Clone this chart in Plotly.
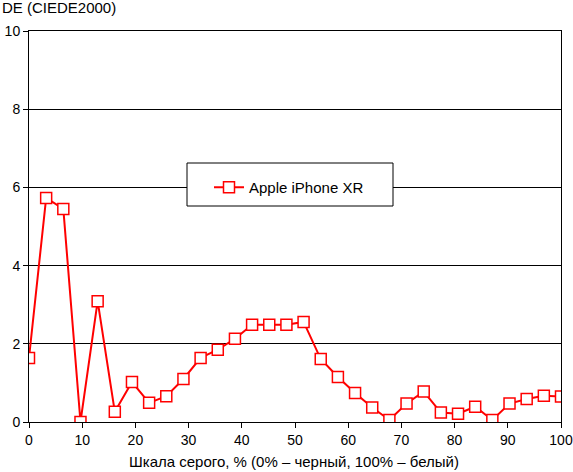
import plotly.graph_objects as go

gray_pct = [k * 100 / 31 for k in range(32)]
de_values = [1.64, 5.73, 5.45, 0.0, 3.09, 0.26, 1.02, 0.49, 0.66, 1.10, 1.64,
             1.85, 2.13, 2.49, 2.49, 2.49, 2.56, 1.61, 1.15, 0.74, 0.37, 0.05,
             0.47, 0.78, 0.24, 0.21, 0.39, 0.05, 0.47, 0.59, 0.67, 0.65]
series_name = "Apple iPhone XR"
x_ticks = [0, 10, 20, 30, 40, 50, 60, 70, 80, 90, 100]
y_ticks = [0, 2, 4, 6, 8, 10]
y_title = "DE (CIEDE2000)"
x_title = "Шкала серого, % (0% – черный, 100% – белый)"

FONT = "Liberation Sans, Arial, sans-serif"

fig = go.Figure()
fig.add_trace(go.Scatter(
    x=gray_pct, y=de_values, name=series_name, mode="lines+markers",
    line=dict(color="#ff0000", width=2),
    marker=dict(symbol="square", size=11, color="white",
                line=dict(color="#ff0000", width=1.5)),
))

fig.update_layout(
    width=573, height=472,
    margin=dict(l=29, r=12, t=31, b=50, autoexpand=False),
    paper_bgcolor="white", plot_bgcolor="white",
    font=dict(family=FONT, size=14, color="black"),
    showlegend=True,
    legend=dict(x=(209 - 29) / 532, y=(422 - 171) / 391, xanchor="left", yanchor="top",
                bgcolor="rgba(0,0,0,0)", borderwidth=0,
                font=dict(family=FONT, size=15, color="black")),
    xaxis=dict(range=[0, 100], tickvals=x_ticks, showgrid=False, zeroline=False,
               showline=True, linecolor="black", linewidth=1, mirror=True,
               ticks="outside", ticklen=5, tickcolor="black", automargin=False,
               tickfont=dict(family=FONT, size=14)),
    yaxis=dict(range=[0, 10], tickvals=y_ticks, showgrid=True, gridcolor="black",
               gridwidth=1, zeroline=False, showline=True, linecolor="black",
               linewidth=1, mirror=True, ticks="outside", ticklen=5, automargin=False,
               tickcolor="black", tickfont=dict(family=FONT, size=14)),
    shapes=[dict(type="rect", xref="paper", yref="paper",
                 x0=(187 - 29) / 532, x1=(393 - 29) / 532,
                 y0=(422 - 206) / 391, y1=(422 - 163) / 391,
                 fillcolor="white", line=dict(color="black", width=1), layer="above")],
    annotations=[
        dict(text=y_title, xref="paper", yref="paper", x=-29 / 532, y=1 + 23 / 391,
             xanchor="left", yanchor="middle", showarrow=False,
             font=dict(family=FONT, size=15)),
        dict(text=x_title, xref="paper", yref="paper", x=(294 - 29) / 532,
             y=-(461 - 422) / 391, xanchor="center", yanchor="middle", showarrow=False,
             font=dict(family=FONT, size=15)),
    ],
)

fig.write_html("out.html", config={"displayModeBar": False},
               post_script="document.body.style.margin='0';document.body.style.overflow='hidden';")
